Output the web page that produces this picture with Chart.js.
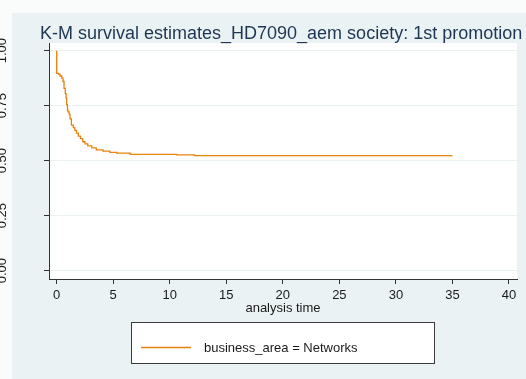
<!DOCTYPE html>
<html>
<head>
<meta charset="utf-8">
<script src="https://cdn.jsdelivr.net/npm/chart.js@4/dist/chart.umd.min.js"></script>
<style>
  html, body { margin: 0; padding: 0; background: #ffffff; }
  #wrap { width: 526px; height: 379px; position: relative; }
  canvas { display: block; }
</style>
</head>
<body>
<div id="wrap"><canvas id="km" width="526" height="379"></canvas></div>
<script>
// Kaplan-Meier survival estimate, business_area = Networks
const chartTitle = 'K-M survival estimates_HD7090_aem society: 1st promotion';
const seriesLabel = 'business_area = Networks';
const xAxisTitle = 'analysis time';

// failure times (analysis time) and the survival estimate after each step
const timePoints = [0, 0.18, 0.3, 0.45, 0.56, 0.65, 0.76, 0.83, 0.88, 0.95, 1.0, 1.1, 1.18, 1.3, 1.47, 1.6, 1.75, 1.91, 2.1, 2.3, 2.5, 2.75, 3.1, 3.5, 4.1, 4.7, 5.3, 6.5, 10.6, 12.2, 17.8, 35];
const survival   = [1.0, 0.897, 0.892, 0.885, 0.875, 0.86, 0.829, 0.805, 0.784, 0.755, 0.730, 0.722, 0.712, 0.690, 0.662, 0.650, 0.638, 0.625, 0.612, 0.600, 0.586, 0.576, 0.567, 0.558, 0.549, 0.543, 0.538, 0.534, 0.529, 0.526, 0.523, 0.523];

const xTickValues = [0, 5, 10, 15, 20, 25, 30, 35, 40];
const yTickValues = [0, 0.25, 0.5, 0.75, 1];
const yTickLabels = ['0.00', '0.25', '0.50', '0.75', '1.00'];

const FONT = 'Liberation Sans, Arial, Helvetica, sans-serif';
const PAGE_BG = '#eaf2f3';
const LINE_COLOR = '#e8820e';
const TEXT_COLOR = '#1a1a1a';

const backdrop = {
  id: 'backdrop',
  beforeDraw(chart) {
    const { ctx, chartArea: a } = chart;
    ctx.save();
    ctx.fillStyle = '#fafcfc';
    ctx.fillRect(0, 0, chart.width, chart.height);
    ctx.fillStyle = PAGE_BG;
    ctx.fillRect(12, 13, chart.width - 12, chart.height - 13);
    ctx.fillStyle = '#ffffff';
    ctx.fillRect(a.left, a.top, a.right - a.left, a.bottom - a.top);
    ctx.restore();
  }
};

const decorations = {
  id: 'decorations',
  afterDraw(chart) {
    const { ctx } = chart;
    const yScale = chart.scales.y;
    ctx.save();

    // heading
    ctx.fillStyle = '#1e3553';
    ctx.font = '18px ' + FONT;
    ctx.textAlign = 'left';
    ctx.textBaseline = 'alphabetic';
    ctx.fillText(chartTitle, 40, 39);

    // vertical y labels
    ctx.fillStyle = TEXT_COLOR;
    ctx.font = '13px ' + FONT;
    ctx.textAlign = 'center';
    ctx.textBaseline = 'middle';
    yTickValues.forEach((v, i) => {
      const py = yScale.getPixelForValue(v);
      ctx.save();
      ctx.translate(2, py);
      ctx.rotate(-Math.PI / 2);
      ctx.fillText(yTickLabels[i], 0, 0);
      ctx.restore();
    });

    // legend box
    const bx = 131.5, by = 322.5, bw = 303, bh = 41;
    ctx.fillStyle = '#ffffff';
    ctx.fillRect(bx, by, bw, bh);
    ctx.strokeStyle = '#3a3a3a';
    ctx.lineWidth = 1;
    ctx.strokeRect(bx, by, bw, bh);
    ctx.strokeStyle = LINE_COLOR;
    ctx.lineWidth = 1.5;
    ctx.beginPath();
    ctx.moveTo(141, 347.5);
    ctx.lineTo(191, 347.5);
    ctx.stroke();
    ctx.fillStyle = TEXT_COLOR;
    ctx.font = '13px ' + FONT;
    ctx.textAlign = 'left';
    ctx.textBaseline = 'middle';
    ctx.fillText(seriesLabel, 204, 348);

    ctx.restore();
  }
};

new Chart(document.getElementById('km'), {
  type: 'scatter',
  data: {
    datasets: [{
      label: seriesLabel,
      data: timePoints.map((t, i) => ({ x: t, y: survival[i] })),
      showLine: true,
      stepped: 'after',
      borderColor: LINE_COLOR,
      borderWidth: 1.3,
      pointRadius: 0,
      fill: false
    }]
  },
  options: {
    responsive: false,
    animation: false,
    layout: { padding: { left: 43, right: 9, top: 43, bottom: 63 } },
    plugins: {
      legend: { display: false },
      title: { display: false },
      tooltip: { enabled: false }
    },
    scales: {
      x: {
        type: 'linear',
        min: -0.68,
        max: 40.71,
        afterBuildTicks(scale) { scale.ticks = xTickValues.map(v => ({ value: v })); },
        afterFit(scale) { scale.height = 37; },
        ticks: {
          color: TEXT_COLOR,
          font: { family: FONT, size: 13 },
          padding: 4,
          maxRotation: 0,
          minRotation: 0,
          callback: v => String(v)
        },
        grid: {
          drawOnChartArea: false,
          drawTicks: true,
          tickLength: 5,
          tickColor: '#333333'
        },
        border: { display: true, color: '#333333', width: 1 },
        title: {
          display: true,
          text: xAxisTitle,
          color: TEXT_COLOR,
          font: { family: FONT, size: 13 },
          padding: { top: 0, bottom: 0 }
        }
      },
      y: {
        type: 'linear',
        min: -0.038,
        max: 1.035,
        afterBuildTicks(scale) { scale.ticks = yTickValues.map(v => ({ value: v })); },
        afterFit(scale) { scale.width = 6; },
        ticks: { display: false },
        grid: {
          color: PAGE_BG,
          lineWidth: 1,
          drawTicks: true,
          tickLength: 5,
          tickColor: '#333333'
        },
        border: { display: true, color: '#333333', width: 1 }
      }
    }
  },
  plugins: [backdrop, decorations]
});
</script>
</body>
</html>
